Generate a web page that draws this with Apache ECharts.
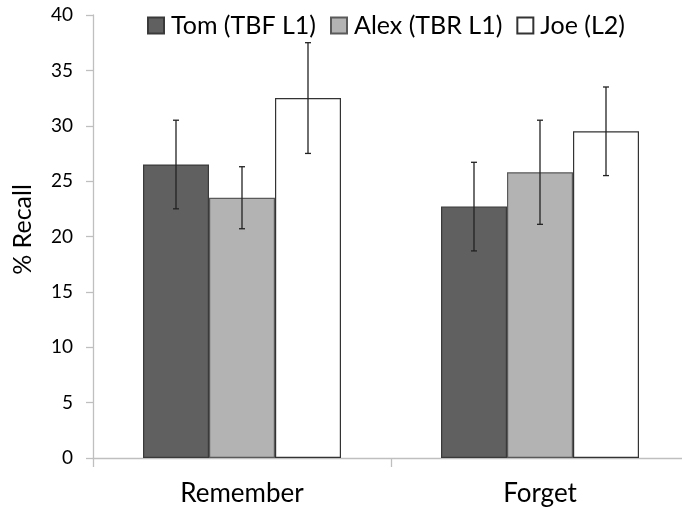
<!DOCTYPE html>
<html>
<head>
<meta charset="utf-8">
<script src="https://cdn.jsdelivr.net/npm/echarts@6/dist/echarts.min.js"></script>
<style>
html, body { margin: 0; padding: 0; background: #fff; }
#main { width: 682px; height: 508px; }
</style>
</head>
<body>
<div id="main"></div>
<script>
// data
var categories = ['Remember', 'Forget'];
var seriesNames = ['Tom (TBF L1)', 'Alex (TBR L1)', 'Joe (L2)'];
var tomMean = [26.5, 22.7];
var alexMean = [23.5, 25.8];
var joeMean = [32.5, 29.5];
var tomErr = [4.0, 4.0];
var alexErr = [2.8, 4.7];
var joeErr = [5.0, 4.0];

var BAR_W = 66;
var FONT = 'Lato, "Liberation Sans", sans-serif';
var fills = ['#606060', '#b3b3b3', '#ffffff'];
var borders = ['#3a3a3a', '#5a5a5a', '#333333'];

function errData(mean, err) {
    var out = [];
    for (var i = 0; i < mean.length; i++) {
        out.push([i, mean[i], err[i]]);
    }
    return out;
}

function errorBars(offset) {
    return function (params, api) {
        var hi = api.coord([api.value(0), api.value(1) + api.value(2)]);
        var lo = api.coord([api.value(0), api.value(1) - api.value(2)]);
        var x = hi[0] + offset * BAR_W;
        var cap = 3;
        var st = { stroke: '#222', lineWidth: 1.3 };
        return {
            type: 'group',
            children: [
                { type: 'line', shape: { x1: x, y1: hi[1], x2: x, y2: lo[1] }, style: st },
                { type: 'line', shape: { x1: x - cap, y1: hi[1], x2: x + cap, y2: hi[1] }, style: st },
                { type: 'line', shape: { x1: x - cap, y1: lo[1], x2: x + cap, y2: lo[1] }, style: st }
            ]
        };
    };
}

var means = [tomMean, alexMean, joeMean];
var errs = [tomErr, alexErr, joeErr];
var series = [];
for (var s = 0; s < 3; s++) {
    series.push({
        name: seriesNames[s],
        type: 'bar',
        data: means[s],
        barWidth: BAR_W,
        barGap: '0%',
        itemStyle: { color: fills[s], borderColor: borders[s], borderWidth: 1.2 }
    });
}
for (var s = 0; s < 3; s++) {
    series.push({
        type: 'custom',
        data: errData(means[s], errs[s]),
        encode: { x: 0, y: 1 },
        renderItem: errorBars(s - 1),
        z: 10,
        silent: true
    });
}

var chart = echarts.init(document.getElementById('main'));
chart.setOption({
    animation: false,
    backgroundColor: '#fff',
    textStyle: { fontFamily: FONT },
    legend: {
        data: seriesNames,
        top: 13,
        left: 147,
        padding: 0,
        icon: 'rect',
        itemWidth: 16,
        itemHeight: 16,
        itemGap: 14,
        textStyle: { fontSize: 25, color: '#000', fontFamily: FONT, padding: [0, 0, 0, 2] }
    },
    grid: { left: 93, right: -7, top: 15, bottom: 50, outerBoundsMode: 'none', containLabel: false },
    xAxis: {
        type: 'category',
        data: categories,
        axisLine: { lineStyle: { color: '#bfbfbf', width: 1.3 } },
        axisTick: { show: true, length: 9, lineStyle: { color: '#bfbfbf', width: 1.3 } },
        axisLabel: { fontSize: 26, color: '#000', margin: 23, fontFamily: FONT }
    },
    yAxis: {
        type: 'value',
        min: 0,
        max: 40,
        interval: 5,
        name: '% Recall',
        nameLocation: 'middle',
        nameRotate: 90,
        nameGap: 58,
        nameTextStyle: { fontSize: 25, color: '#000', fontFamily: FONT, padding: [0, 0, 0, 14] },
        axisLine: { show: true, lineStyle: { color: '#bfbfbf', width: 1.3 } },
        axisTick: { show: true, length: 7, lineStyle: { color: '#bfbfbf', width: 1.3 } },
        axisLabel: { fontSize: 19, color: '#000', margin: 20, fontFamily: FONT },
        splitLine: { show: false }
    },
    series: series
});
</script>
</body>
</html>
